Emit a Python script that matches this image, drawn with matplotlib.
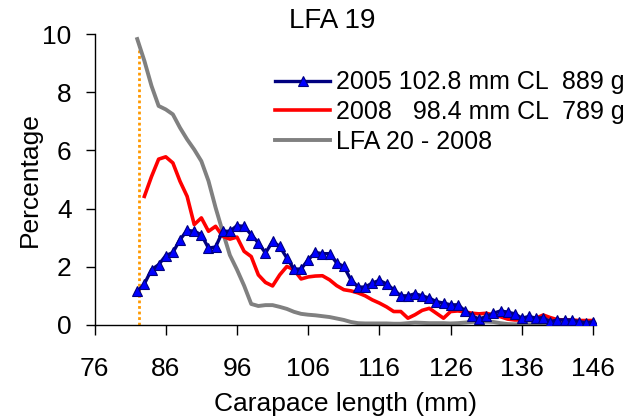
import matplotlib
matplotlib.use("Agg")
import matplotlib.pyplot as plt
import numpy as np

plt.rcParams['font.family'] = ['Liberation Sans', 'DejaVu Sans']

# carapace length bins (mm)
lengths = list(range(82, 147))

# 2005, LFA 19
pct_2005 = [1.15, 1.41, 1.90, 2.07, 2.38, 2.49, 2.93, 3.25, 3.22, 3.10,
            2.64, 2.68, 3.22, 3.22, 3.41, 3.39, 3.10, 2.82, 2.47, 2.87,
            2.70, 2.30, 1.92, 1.92, 2.24, 2.49, 2.45, 2.45, 2.13, 2.01,
            1.55, 1.30, 1.30, 1.44, 1.53, 1.41, 1.21, 1.00, 1.00, 1.07,
            1.00, 0.92, 0.80, 0.75, 0.69, 0.69, 0.49, 0.31, 0.20, 0.29,
            0.40, 0.48, 0.44, 0.38, 0.23, 0.29, 0.23, 0.25, 0.11, 0.17,
            0.17, 0.17, 0.11, 0.08, 0.11]

# 2008, LFA 19 (starts at 83 mm)
lengths_2008 = list(range(83, 147))
pct_2008 = [4.42, 5.10, 5.70, 5.78, 5.57, 4.94, 4.42, 3.45, 3.68, 3.22,
            3.39, 3.05, 2.95, 3.02, 2.53, 2.35, 1.72, 1.46, 1.34, 1.72,
            2.01, 1.90, 1.58, 1.65, 1.68, 1.69, 1.55, 1.35, 1.21, 1.17,
            1.10, 1.00, 0.86, 0.75, 0.62, 0.46, 0.46, 0.23, 0.35, 0.50,
            0.57, 0.40, 0.23, 0.46, 0.48, 0.45, 0.40, 0.38, 0.40, 0.34,
            0.28, 0.20, 0.17, 0.17, 0.18, 0.23, 0.34, 0.25, 0.18, 0.17,
            0.17, 0.15, 0.15, 0.15]

# LFA 20, 2008
pct_lfa20 = [9.83, 9.08, 8.22, 7.53, 7.41, 7.24, 6.78, 6.38, 6.03, 5.63,
             4.95, 4.03, 3.20, 2.40, 1.90, 1.35, 0.72, 0.65, 0.68, 0.68,
             0.62, 0.55, 0.45, 0.38, 0.35, 0.33, 0.30, 0.27, 0.22, 0.17,
             0.10, 0.06, 0.05, 0.05, 0.05, 0.05, 0.04, 0.04, 0.06, 0.08,
             0.07, 0.06, 0.06, 0.06, 0.05, 0.06, 0.08, 0.10, 0.11, 0.11,
             0.10, 0.06, 0.03, 0.02, 0.02, 0.02, 0.02, 0.02, 0.02, 0.02,
             0.02, 0.02, 0.02, 0.02, 0.02]

# minimum legal size marker
mls = 82.2
mls_top = 9.6

xticks = list(range(76, 147, 10))
yticks = [0, 2, 4, 6, 8, 10]

fig = plt.figure(figsize=(6.26, 4.16), dpi=100)
ax = fig.add_axes([0.151, 0.219, 0.801, 0.699])

ax.plot([mls, mls], [0, mls_top], color='#FF9900', lw=2, ls=(0, (1, 1)), zorder=1)
ax.plot(lengths, pct_2005, color='#000080', lw=2.4, marker='^', ms=7.5,
        mfc='#0000FF', mec='#000080', mew=0.8,
        label='2005 102.8 mm CL  889 g', zorder=4)
ax.plot(lengths_2008, pct_2008, color='#FF0000', lw=2.6,
        label='2008   98.4 mm CL  789 g', zorder=3)
ax.plot(lengths, pct_lfa20, color='#808080', lw=2.8,
        label='LFA 20 - 2008', zorder=2)

ax.set_xlim(76, 146.4)
ax.set_ylim(0, 10)
ax.set_xticks(xticks)
ax.set_yticks(yticks)
ax.tick_params(axis='both', labelsize=19, direction='out', width=1, color='black')
ax.tick_params(axis='x', length=7, pad=16)
ax.tick_params(axis='y', length=6.5, pad=10)
for s in ['top', 'right']:
    ax.spines[s].set_visible(False)
for s in ['left', 'bottom']:
    ax.spines[s].set_linewidth(1)
    ax.spines[s].set_color('black')

ax.set_xlabel('Carapace length (mm)', fontsize=19, labelpad=8)
ax.set_ylabel('Percentage', fontsize=19, labelpad=0)
ax.set_title('LFA 19', fontsize=20, pad=1, x=0.475)

ax.legend(loc='upper left', bbox_to_anchor=(0.34, 0.91), frameon=False,
          fontsize=18, handlelength=2.2, handletextpad=0.25,
          labelspacing=0.23, borderaxespad=0, markerfirst=True, numpoints=1)

fig.savefig('out.png', dpi=100)
